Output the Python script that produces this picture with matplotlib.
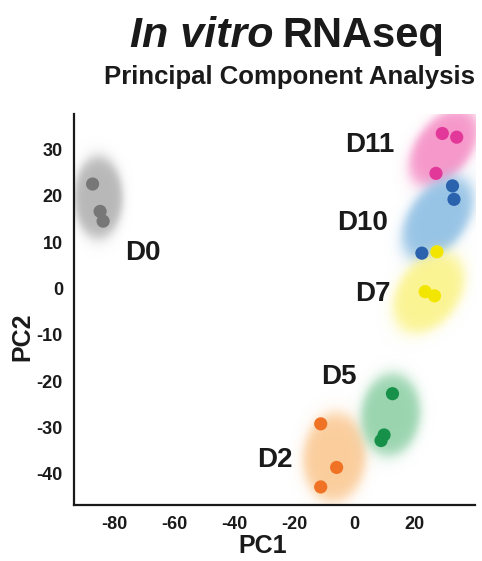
import numpy as np
import matplotlib
matplotlib.use("Agg")
import matplotlib.pyplot as plt
from matplotlib.colors import to_rgb

plt.rcParams['font.family'] = ['Liberation Sans', 'DejaVu Sans']
plt.rcParams['font.weight'] = 'bold'
plt.rcParams['axes.unicode_minus'] = False

# PCA coordinates
groups = ["D0", "D2", "D5", "D7", "D10", "D11"]
pc1 = {
    "D0": [-87.1, -84.6, -83.6],
    "D2": [-11.1, -5.8, -11.1],
    "D5": [12.8, 10.0, 9.0],
    "D7": [27.6, 23.7, 26.8],
    "D10": [32.8, 33.3, 22.6],
    "D11": [29.4, 34.2, 27.3],
}
pc2 = {
    "D0": [22.5, 16.6, 14.5],
    "D2": [-29.2, -38.6, -42.8],
    "D5": [-22.7, -31.6, -32.8],
    "D7": [7.9, -0.7, -1.6],
    "D10": [22.1, 19.2, 7.6],
    "D11": [33.4, 32.6, 24.8],
}
label_pos = {
    "D0": (-70.3, 7.6),
    "D2": (-26.5, -37.0),
    "D5": (-5.0, -19.2),
    "D7": (6.2, -1.3),
    "D10": (2.7, 14.2),
    "D11": (5.3, 30.9),
}
point_color = {
    "D0": "#777777", "D2": "#f07225", "D5": "#17914a",
    "D7": "#f2e600", "D10": "#2b62ae", "D11": "#e2389a",
}
fill_color = {
    "D0": "#b0b0b0", "D2": "#fbc891", "D5": "#8ed0a6",
    "D7": "#fbf386", "D10": "#8bbde3", "D11": "#f58cc4",
}
# soft cloud: centre (data), semi axes (px), angle (deg)
clouds = {
    "D0": ((-85.3, 19.5), 28, 47, 0),
    "D11": ((29.7, 30.3), 51, 31, 52),
    "D10": ((27.7, 15.0), 54, 33, 55),
    "D7": ((24.7, -1.0), 51, 35, 55),
    "D5": ((12.0, -27.3), 47, 34, 84),
    "D2": ((-6.7, -36.5), 51, 36, 86),
}
draw_order = ["D0", "D2", "D5", "D11", "D10", "D7"]

fig = plt.figure(figsize=(4.82, 5.61), dpi=100)
ax = fig.add_axes([0.1535, 0.0998, 0.832, 0.697])
xlim = (-93.3, 40.3)
ylim = (-46.7, 37.6)
ax.set_xlim(*xlim)
ax.set_ylim(*ylim)

# pixels per data unit
sx = ax.get_position().width * 482 / (xlim[1] - xlim[0])
sy = ax.get_position().height * 561 / (ylim[1] - ylim[0])

gx = np.linspace(xlim[0], xlim[1], 500)
gy = np.linspace(ylim[0], ylim[1], 500)
X, Y = np.meshgrid(gx, gy)

for g in draw_order:
    (cx, cy), a, b, ang = clouds[g]
    u = (X - cx) * sx
    v = (Y - cy) * sy
    t = np.deg2rad(ang)
    ur = u * np.cos(t) + v * np.sin(t)
    vr = -u * np.sin(t) + v * np.cos(t)
    r = np.sqrt((ur / a) ** 2 + (vr / b) ** 2)
    alpha = 0.9 / (1 + np.exp((r - 0.86) / 0.085))
    rgba = np.zeros(X.shape + (4,))
    rgba[..., :3] = to_rgb(fill_color[g])
    rgba[..., 3] = alpha
    ax.imshow(rgba, extent=(xlim[0], xlim[1], ylim[0], ylim[1]), origin='lower',
              aspect='auto', interpolation='bilinear', zorder=1)

for g in groups:
    ax.scatter(pc1[g], pc2[g], s=90, color=point_color[g], edgecolors='none', zorder=3)
    lx, ly = label_pos[g]
    ax.text(lx, ly, g, fontsize=20, fontweight='bold', ha='center', va='center',
            color='#1a1a1a', zorder=4)

ax.set_xlim(*xlim)
ax.set_ylim(*ylim)
ax.set_xticks([-80, -60, -40, -20, 0, 20])
ax.set_yticks([-40, -30, -20, -10, 0, 10, 20, 30])
ax.tick_params(length=0, labelsize=13, pad=8, colors='#1a1a1a')
for lab in ax.get_xticklabels() + ax.get_yticklabels():
    lab.set_fontweight('bold')
for s in ['top', 'right']:
    ax.spines[s].set_visible(False)
for s in ['left', 'bottom']:
    ax.spines[s].set_linewidth(1.6)
    ax.spines[s].set_color('#1a1a1a')

ax.set_xlabel("PC1", fontsize=18, fontweight='bold', color='#1a1a1a')
ax.xaxis.set_label_coords(0.47, -0.075)
ax.set_ylabel("PC2", fontsize=18, fontweight='bold', color='#1a1a1a')
ax.yaxis.set_label_coords(-0.10, 0.43)

fig.text(273 / 482, 1 - 47 / 561, "In vitro", fontsize=31, fontweight='bold',
         style='italic', ha='right', va='baseline', color='#1a1a1a')
fig.text(282 / 482, 1 - 47 / 561, "RNAseq", fontsize=30, fontweight='bold',
         ha='left', va='baseline', color='#1a1a1a')
fig.text(290 / 482, 1 - 84 / 561, "Principal Component Analysis", fontsize=18.5,
         fontweight='bold', ha='center', va='baseline', color='#1a1a1a')

fig.savefig("out.png", dpi=100)
